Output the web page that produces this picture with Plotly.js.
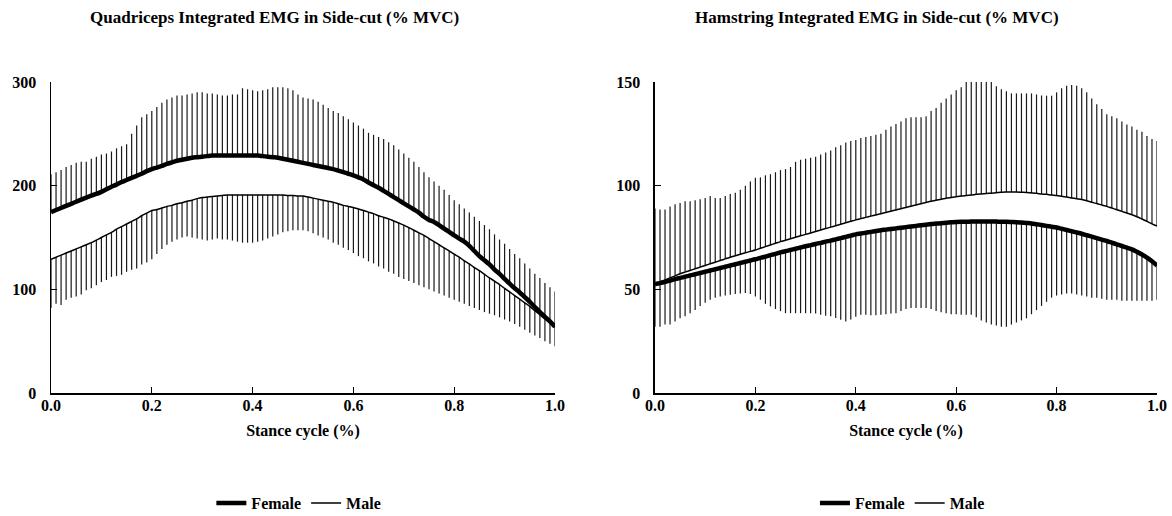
<!DOCTYPE html>
<html>
<head>
<meta charset="utf-8">
<script src="https://cdn.plot.ly/plotly-3.0.1.min.js"></script>
<style>html,body{margin:0;padding:0;background:#fff;}#chart{width:1172px;height:516px;}</style>
</head>
<body>
<div id="chart"></div>
<script>
// Stance cycle positions (0.00 .. 1.00 step 0.01)
const stance = [0,0.01,0.02,0.03,0.04,0.05,0.06,0.07,0.08,0.09,0.1,0.11,0.12,0.13,0.14,0.15,0.16,0.17,0.18,0.19,0.2,0.21,0.22,0.23,0.24,0.25,0.26,0.27,0.28,0.29,0.3,0.31,0.32,0.33,0.34,0.35,0.36,0.37,0.38,0.39,0.4,0.41,0.42,0.43,0.44,0.45,0.46,0.47,0.48,0.49,0.5,0.51,0.52,0.53,0.54,0.55,0.56,0.57,0.58,0.59,0.6,0.61,0.62,0.63,0.64,0.65,0.66,0.67,0.68,0.69,0.7,0.71,0.72,0.73,0.74,0.75,0.76,0.77,0.78,0.79,0.8,0.81,0.82,0.83,0.84,0.85,0.86,0.87,0.88,0.89,0.9,0.91,0.92,0.93,0.94,0.95,0.96,0.97,0.98,0.99,1];

// Quadriceps - Female mean and mean+SD
const quadFemaleMean = [174.5,176.5,178.5,180.5,182.5,184.5,186.5,188.5,190.5,192,194,196.5,199,201,203.5,205.5,207.5,209.5,211.5,214,216,217.5,219,221,222.5,224,225,226,227,227.5,228,228.5,229,229,229,229,229,229,229,229,229,229,228.5,228,227.5,227,226,225,224,223,222,221,220,219,218,217,216,214.5,213,211.5,210,208,206,203,200.5,198,195,192,189,186,183,180,177,174,170,167,165,162,158.5,155.5,152,149,146,142,137,132,128,124,119,115,110,105.5,101,97,92.5,88,83,78,73.5,69,64];
const quadFemaleUpper = [211,213,215,218,220,222,223,223,226,228,230,231,233,236,238,240,250,258,266,269,272,276,280,283,285,287,287,288,289,290,290,289,289,288,287,287,288,288,294,293,292,291,292,293,295,295,295,294,292,288,285,284,283,281,278,275,272,270,267,264,261,258,255,251,249,247,245,242,239,235,231,227,223,218,213,208,204,200,196,191,186,182,178,174,170,166,162,158,153,148,144,139,134,130,125,120,115,111,106,102,98];
// Quadriceps - Male mean and mean-SD
const quadMaleMean = [129,131,133,135,137,139,141,143,145,147.5,150,152.5,155,158,160.5,163,165.5,168,171,173.5,176,177,178.5,180,181,182.5,183.5,185,186,187.5,188.5,189,189.5,190,190.5,191,191,191,191,191,191,191,191,191,191,191,191,190.5,190.5,190,190,189,188,187,186,185,184,182.5,181,180,179,177.5,176,174.5,173,171,169.5,168,166,164,162,159.5,157,154.5,152,149,146,143,140,137,134,131,127.5,124.5,121,118,114.5,111,108,104.5,101,97.5,94,90.5,87,83.5,79.5,75.5,71.5,67.5,63.5];
const quadMaleLower = [82,86,85,90,92,93,95,99,101,104,107,109,112,113,114,117,119,120,124,126,129,134,139,143,146,148,150,151,150,149,148,147,148,149,148,148,147,146,145,145,145,146,147,149,151,153,155,156,157,157,157,156,154,152,150,148,145,143,140,138,135,132,130,127,125,122,120,117,115,112,110,108,106,104,102,100,98,96,94,92,90,88,86,84,82,80,78,76.5,75,73,71,69,66.5,64,61,58,55.5,53,50,47.5,45];

// Hamstring - Female mean and mean-SD
const hamFemaleMean = [52.5,53,53.6,54.2,54.9,55.5,56.1,56.7,57.3,57.9,58.5,59.1,59.7,60.3,60.9,61.5,62.1,62.7,63.3,63.9,64.5,65.2,65.8,66.5,67.1,67.8,68.4,69,69.6,70.2,70.8,71.3,71.9,72.4,73,73.5,74.1,74.7,75.3,75.9,76.5,76.9,77.3,77.7,78.1,78.5,78.8,79.1,79.4,79.7,80,80.3,80.6,80.9,81.2,81.5,81.7,81.9,82.1,82.3,82.5,82.6,82.6,82.7,82.7,82.7,82.7,82.7,82.7,82.6,82.6,82.5,82.4,82.2,82,81.8,81.4,81,80.6,80.2,79.8,79.2,78.6,78,77.4,76.8,76.1,75.4,74.7,74,73.3,72.5,71.7,70.9,70.1,69.3,68.1,66.8,65.3,63.5,61.5];
const hamFemaleLower = [32,32,33,33,34.5,36,37,38.5,40,42,43.5,45,46,46.5,47,47.4,47.8,48,48.2,47.8,46.6,45,43,41.8,40.5,39.5,38.5,38.5,38.5,38.5,38.5,38.5,38.3,37.8,37.2,37,36.2,35.3,34.5,35.5,36.8,37.7,37.7,37.5,37.5,37.7,38,38.3,38.5,39.5,40.5,41,41,41,41,40.5,39.5,39,38.5,38,38,37.8,37.7,37.7,36.5,35,34,33,32.5,32,32,33,34,35,36,38,40,42,44,46,47,47.5,48,48,47.5,47,46.5,46,46,45.5,45,45,45,44.5,44.5,44.5,44.5,44.5,44.5,44.5,45];
// Hamstring - Male mean and mean+SD
const hamMaleMean = [52.5,53.5,54.5,55.5,56.5,57.5,58.3,59.1,59.9,60.7,61.5,62.3,63.1,63.9,64.7,65.5,66.2,66.9,67.6,68.3,69,69.8,70.6,71.4,72.2,73,73.7,74.4,75.1,75.8,76.5,77.2,77.9,78.6,79.3,80,80.7,81.4,82.1,82.8,83.5,84.1,84.7,85.3,85.9,86.5,87.1,87.7,88.3,88.9,89.5,90.1,90.7,91.3,91.9,92.5,93,93.4,93.9,94.3,94.7,95,95.3,95.5,95.8,96,96.2,96.4,96.6,96.8,96.9,96.9,96.9,96.8,96.7,96.5,96.3,96,95.8,95.5,95.3,94.9,94.5,94.1,93.7,93.3,92.7,92,91.4,90.7,90,89.2,88.4,87.6,86.8,86,85,83.9,82.8,81.6,80.5];
const hamMaleUpper = [89,88.5,88.5,90,91,91.7,92.5,92.5,93,93.4,94,95,94,94,95,96,96.6,98,100,102,103.8,104,105,105.5,106.5,107.5,108,109,111.5,112.5,113,113.5,114,115,116,117,118.5,119.5,120.8,121.5,122,123,123.5,124,124.5,125,127,128.5,129.7,131,132.5,133,133,133,133.5,136,137.5,140,142,144,146,147.5,152,155,158,156,152,150,148,146.5,145.5,144.5,144.5,144.5,144.5,144.5,144,143.5,143.4,143.4,145,147,148.2,148.5,148.2,147,145,142,139.3,137,134.5,133.5,132.5,131,129.5,128.5,127,126,124,122.5,121.5];

// Text
const titleQuad = "Quadriceps Integrated EMG in Side-cut (% MVC)";
const titleHam = "Hamstring Integrated EMG in Side-cut (% MVC)";
const xTitle = "Stance cycle (%)";
const xTicks = [0, 0.2, 0.4, 0.6, 0.8, 1.0];
const xTickText = ["0.0", "0.2", "0.4", "0.6", "0.8", "1.0"];
const quadYTicks = [0, 100, 200, 300];
const hamYTicks = [0, 50, 100, 150];

const diff = (a, b) => a.map((v, i) => Math.max(0, v - b[i]));
const zeros = stance.map(() => 0);

const FONT = "Liberation Serif, 'Times New Roman', serif";
const barStyle = {type: 'data', symmetric: false, width: 0, thickness: 1.2, color: '#1a1a1a'};

const traces = [
  {x: stance, y: quadFemaleMean, name: 'Female', mode: 'lines', xaxis: 'x', yaxis: 'y', legend: 'legend',
   line: {color: '#000', width: 4.5, shape: 'spline', smoothing: 0.8},
   error_y: Object.assign({}, barStyle, {array: diff(quadFemaleUpper, quadFemaleMean), arrayminus: zeros})},
  {x: stance, y: quadMaleMean, name: 'Male', mode: 'lines', xaxis: 'x', yaxis: 'y', legend: 'legend',
   line: {color: '#000', width: 1.5, shape: 'spline', smoothing: 0.8},
   error_y: Object.assign({}, barStyle, {array: zeros, arrayminus: diff(quadMaleMean, quadMaleLower)})},
  {x: stance, y: hamFemaleMean, name: 'Female', mode: 'lines', xaxis: 'x2', yaxis: 'y2', legend: 'legend2',
   line: {color: '#000', width: 4.5, shape: 'spline', smoothing: 0.8},
   error_y: Object.assign({}, barStyle, {array: zeros, arrayminus: diff(hamFemaleMean, hamFemaleLower)})},
  {x: stance, y: hamMaleMean, name: 'Male', mode: 'lines', xaxis: 'x2', yaxis: 'y2', legend: 'legend2',
   line: {color: '#000', width: 1.5, shape: 'spline', smoothing: 0.8},
   error_y: Object.assign({}, barStyle, {array: diff(hamMaleUpper, hamMaleMean), arrayminus: zeros})}
];

const tickFont = {family: FONT, size: 16, color: '#000', weight: 'bold'};
function xAxis(domain, anchor) {
  return {domain: domain, anchor: anchor, range: [0, 1], tickvals: xTicks, ticktext: xTickText,
    showline: true, linecolor: '#000', linewidth: 1.5, ticks: 'inside', ticklen: 6, tickwidth: 1.2, tickcolor: '#000',
    showgrid: false, zeroline: false, tickfont: tickFont, ticklabelstandoff: -3, automargin: false,
    title: {text: xTitle, font: {family: FONT, size: 16, color: '#000', weight: 'bold'}, standoff: 12}};
}
function yAxis(range, ticks, anchor) {
  return {domain: [0, 1], anchor: anchor, range: range, tickvals: ticks,
    showline: true, linecolor: '#000', linewidth: 1.5, ticks: 'inside', ticklen: 6, tickwidth: 1.2, tickcolor: '#000',
    showgrid: false, zeroline: false, tickfont: tickFont, ticklabelstandoff: 10, automargin: false};
}

const legendFont = {family: FONT, size: 16, color: '#000', weight: 'bold'};
const layout = {
  width: 1172, height: 516,
  margin: {l: 51, r: 15, t: 82, b: 123},
  paper_bgcolor: '#fff', plot_bgcolor: '#fff',
  font: {family: FONT, size: 15, color: '#000', weight: 'bold'},
  xaxis: xAxis([0, 0.4557], 'y'),
  yaxis: yAxis([0, 300], quadYTicks, 'x'),
  xaxis2: xAxis([0.5461, 1], 'y2'),
  yaxis2: yAxis([0, 150], hamYTicks, 'x2'),
  legend: {orientation: 'h', xref: 'container', yref: 'container', x: 0.255, xanchor: 'center', y: 0.025, yanchor: 'middle',
    font: legendFont, bgcolor: 'rgba(0,0,0,0)'},
  legend2: {orientation: 'h', xref: 'container', yref: 'container', x: 0.77, xanchor: 'center', y: 0.025, yanchor: 'middle',
    font: legendFont, bgcolor: 'rgba(0,0,0,0)'},
  annotations: [
    {text: titleQuad, xref: 'paper', yref: 'paper', x: 0.2025, y: 1.209, xanchor: 'center', yanchor: 'middle', showarrow: false,
     font: {family: FONT, size: 17, color: '#000', weight: 'bold'}},
    {text: titleHam, xref: 'paper', yref: 'paper', x: 0.747, y: 1.209, xanchor: 'center', yanchor: 'middle', showarrow: false,
     font: {family: FONT, size: 17, color: '#000', weight: 'bold'}}
  ],
  showlegend: true
};

Plotly.newPlot('chart', traces, layout, {displayModeBar: false, staticPlot: true});
</script>
</body>
</html>
